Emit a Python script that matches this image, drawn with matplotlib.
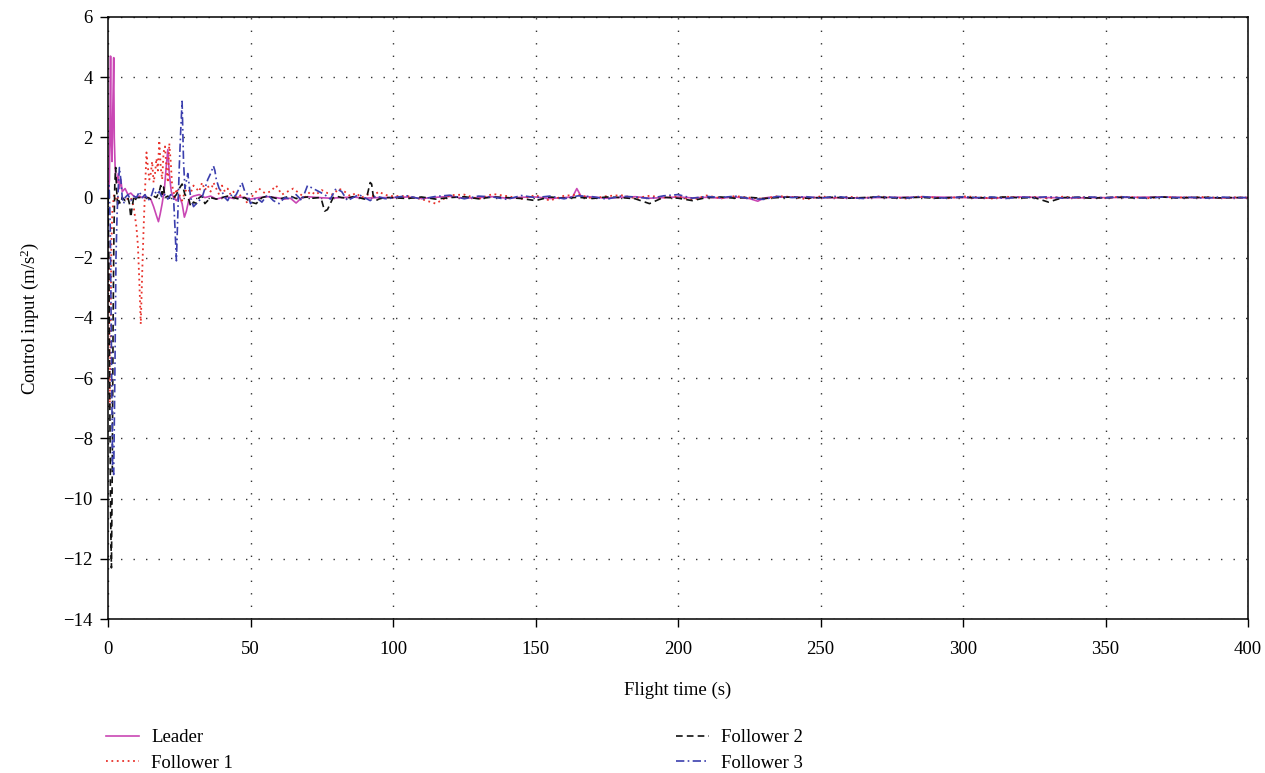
import matplotlib
matplotlib.use("Agg")
import matplotlib.pyplot as plt

plt.rcParams['font.family'] = ['Liberation Serif', 'DejaVu Serif']
plt.rcParams['mathtext.fontset'] = 'custom'
plt.rcParams['mathtext.rm'] = 'Liberation Serif'
plt.rcParams['mathtext.it'] = 'Liberation Serif:italic'

# ---------------- data ----------------
late_t = [100, 105, 110, 115, 120, 125, 130, 135, 140, 145, 150, 155, 160, 165, 170,
          175, 180, 185, 190, 195, 200, 205, 210, 215, 220, 225, 230, 235, 240, 245,
          250, 255, 260, 265, 270, 275, 280, 285, 290, 295, 300, 305, 310, 315, 320,
          325, 330, 335, 340, 345, 350, 355, 360, 365, 370, 375, 380, 385, 390, 395, 400]

leader_t = [0, 0.5, 0.9, 1.1, 1.4, 1.7, 2.0, 2.2, 2.5, 2.8, 3.2, 3.6, 4.0, 4.5, 5, 6, 7, 8,
            9, 10, 11, 12, 13, 14, 15, 16, 17, 17.7, 18.3, 19, 19.8, 20.5, 21.0, 21.5, 22.2,
            23, 24, 25, 26, 26.8, 27.5, 28.3, 29, 30, 32, 34, 36, 38, 40, 42, 44, 46, 48,
            50, 53, 56, 59, 62, 64, 66, 68, 70, 74, 78, 82, 86, 90, 95,
            100, 105, 110, 115, 120, 125, 130, 135, 140, 145, 150, 155, 160, 163, 164.5, 166,
            170, 175, 180, 185, 190, 195, 200, 205, 210, 215, 220, 225, 228, 230, 232, 240,
            250, 260, 270, 280, 290, 300, 310, 320, 330, 340, 350, 360, 370, 380, 390, 400]
leader_v = [0, 0.6, 4.7, 2.0, 1.2, 3.0, 4.65, 2.0, 1.0, 0.6, 0.5, 0.8, 0.3, 0.6, 0.2, 0.3,
            0.1, 0.15, 0.05, 0.0, 0.05, 0.0, 0.02, 0.0, -0.05, -0.3, -0.6, -0.8, -0.55, -0.2,
            0.3, 1.1, 1.6, 0.8, 0.2, 0.0, -0.1, 0.05, -0.2, -0.65, -0.45, -0.1, 0.0, 0.05,
            0.1, 0.0, 0.05, -0.05, 0.0, 0.02, -0.03, 0.02, 0.0, -0.05, 0.0, 0.03, 0.0, -0.05,
            -0.02, -0.18, 0.0, 0.03, 0.0, -0.02, 0.0, 0.02, -0.02, 0.0,
            0.0, 0.02, -0.03, 0.01, 0.04, -0.02, 0.0, 0.03, -0.02, 0.01, 0.02, -0.03, 0.0,
            0.02, 0.3, 0.04, 0.02, -0.02, 0.01, 0.03, -0.02, 0.0, 0.02, -0.01, 0.01, -0.02,
            0.02, -0.03, -0.12, -0.02, 0.01, 0.02, 0.0, -0.01, 0.0, 0.01, 0.02, 0.0, -0.02,
            0.02, 0.0, -0.01, 0.0, 0.01, 0.02, 0.0, -0.01, 0.0]

f1_t = [0, 0.3, 0.6, 0.9, 1.2, 1.5, 1.8, 2.1, 2.5, 3.0, 3.5, 4, 5, 6, 7, 8, 9, 10, 10.5,
        11, 11.5, 12, 12.5, 13, 13.5, 14, 14.5, 15, 15.5, 16, 16.5, 17, 17.5, 18, 18.5, 19,
        19.5, 20, 20.5, 21, 21.5, 22, 22.5, 23, 23.5, 24, 25, 26, 27, 28, 29, 30, 31, 32,
        33, 34, 35, 36, 37, 38, 39, 40, 41, 42, 43, 44, 45, 47, 49, 51, 53, 55, 57, 59, 61,
        63, 65, 67, 69, 71, 73, 75, 77, 79, 81, 83, 85, 87, 89, 91, 93, 95, 97, 99] + late_t[1:]
f1_v = [0, -3.0, -7.0, -4.5, -1.5, -0.5, -0.2, 0.1, 0.0, -0.1, 0.0, 0.05, 0.0, 0.0, -0.05,
        0.0, -0.3, -1.0, -1.6, -2.8, -4.2, -2.5, -1.0, 0.3, 1.5, 1.0, 0.6, 0.8, 1.2, 0.5, 0.8,
        1.3, 0.9, 1.9, 1.0, 0.6, 1.5, 1.7, 1.0, 0.5, 1.8, 1.2, 0.4, 0.2, 0.0, 0.3, 0.1, -0.1,
        0.2, 0.3, 0.15, 0.4, 0.3, 0.2, 0.5, 0.25, 0.4, 0.2, 0.5, 0.3, 0.1, 0.4, 0.2, 0.3, 0.1,
        0.2, 0.0, 0.1, -0.2, 0.1, 0.3, 0.15, 0.2, 0.4, 0.1, 0.2, 0.3, 0.15, 0.0, 0.2, 0.1,
        0.25, 0.15, 0.1, 0.3, 0.2, 0.05, 0.15, 0.0, 0.1, 0.05, 0.2, 0.1, 0.05,
        0.05, -0.05, -0.2, 0.08, 0.1, -0.05, 0.12, 0.05, -0.04, 0.08, -0.1, 0.06, 0.1,
        -0.03, 0.05, 0.08, -0.02, 0.06, 0.0, 0.04, -0.08, 0.07, -0.02, 0.05, 0.0, -0.04,
        0.05, 0.02, -0.05, 0.04, 0.0, 0.03, -0.02, 0.04, 0.01, -0.03, 0.03, 0.0, -0.02,
        0.04, 0.02, -0.03, 0.03, 0.0, 0.02, -0.02, 0.03, 0.0, 0.02, -0.02, 0.03, 0.01,
        -0.02, 0.02, 0.0, 0.01, 0.02, -0.01, 0.01, 0.0]

f2_t = [0, 0.3, 0.6, 0.9, 1.2, 1.5, 1.8, 2.1, 2.4, 2.7, 3.0, 3.4, 3.8, 4.3, 5, 6, 7, 7.5, 8,
        8.5, 9, 9.5, 10, 11, 12, 13, 14, 15, 16, 17, 18, 18.5, 19, 19.5, 20, 21, 22, 23, 24,
        25, 26, 27, 28, 28.5, 29, 30, 31, 32, 33, 34, 35, 36, 38, 40, 42, 44, 46, 48, 50,
        52, 54, 56, 58, 60, 62, 64, 66, 68, 70, 72, 74, 75, 76, 77, 78, 79, 80, 82, 84, 86,
        88, 90, 91, 92, 92.5, 93, 94, 95, 97, 99] + late_t[1:]
f2_v = [0, -2.0, -6.0, -10.5, -12.3, -9.0, -4.0, -1.0, 0.5, 1.0, 0.3, -0.3, -0.1, -0.2, 0.0,
        -0.1, 0.0, -0.2, -0.65, -0.3, 0.0, -0.1, 0.0, 0.0, 0.02, 0.0, 0.0, -0.05, 0.05, 0.0,
        0.2, 0.4, 0.1, 0.35, 0.0, 0.05, -0.05, 0.0, 0.1, 0.3, 0.45, 0.1, 0.0, -0.1, -0.3,
        -0.15, -0.2, 0.0, 0.05, -0.2, -0.1, 0.0, -0.05, 0.0, 0.05, 0.0, -0.05, 0.0, -0.15,
        -0.2, 0.0, 0.05, 0.0, -0.05, 0.0, 0.05, -0.03, 0.0, 0.02, -0.02, 0.0, -0.1, -0.45,
        -0.4, -0.2, 0.0, 0.05, 0.0, -0.02, 0.03, 0.0, -0.05, 0.1, 0.5, 0.45, 0.1, -0.1, -0.05,
        0.0, 0.0,
        -0.03, 0.02, -0.05, 0.0, 0.03, -0.04, 0.02, 0.0, -0.03, -0.1, 0.02, -0.02, 0.01,
        -0.03, 0.02, 0.0, -0.04, -0.2, 0.01, -0.02, -0.1, 0.0, 0.02, -0.02, 0.01, -0.03,
        0.0, 0.02, -0.02, 0.0, 0.01, -0.02, 0.0, 0.02, -0.01, 0.0, 0.01, -0.02, 0.0, 0.01,
        -0.01, 0.0, 0.02, -0.01, 0.0, -0.15, 0.0, 0.01, -0.02, 0.0, 0.01, -0.01, 0.0, 0.02,
        -0.01, 0.0, 0.01, -0.01, 0.0, 0.0]

f3_t = [0, 0.4, 0.8, 1.2, 1.6, 2.0, 2.4, 2.8, 3.2, 3.6, 4.0, 4.5, 5, 5.5, 6, 7, 8, 9, 10, 11,
        12, 13, 14, 15, 16, 17, 18, 19, 20, 21, 22, 23, 23.5, 24, 24.5, 25, 25.5, 26, 26.5,
        27, 28, 29, 30, 31, 32, 33, 34, 35, 36, 37, 37.5, 38, 39, 40, 41, 42, 43, 44, 45,
        46, 47, 48, 49, 50, 52, 54, 56, 58, 60, 62, 64, 66, 68, 70, 72, 74, 76, 78, 80, 82,
        84, 86, 88, 90, 92, 94, 96, 98] + late_t
f3_v = [0, 0.4, -1.0, -5.0, -9.0, -9.2, -6.0, -2.0, -0.5, 0.3, 1.0, 0.6, 0.0, -0.2, 0.0,
        0.1, -0.1, 0.05, 0.0, 0.2, 0.0, 0.1, -0.1, 0.0, 0.3, 0.1, 0.2, 0.0, 0.1, -0.05, 0.1,
        0.0, -1.0, -2.1, -0.5, 1.0, 2.2, 3.2, 1.2, 0.3, 0.8, 0.0, -0.3, -0.2, -0.1, 0.0, 0.3,
        0.6, 0.8, 1.05, 0.9, 0.6, 0.3, 0.2, 0.0, -0.1, 0.1, 0.0, 0.1, 0.3, 0.5, 0.2, 0.1,
        -0.2, 0.0, -0.15, 0.1, -0.1, -0.2, 0.0, -0.05, 0.1, -0.1, 0.4, 0.3, 0.2, 0.1, -0.05,
        0.3, 0.2, -0.1, 0.0, 0.1, 0.0, -0.1, 0.05, 0.0, -0.05,
        0.0, 0.06, -0.05, 0.04, 0.08, -0.04, 0.05, 0.02, -0.06, 0.07, 0.0, 0.05, -0.04,
        0.06, 0.03, -0.05, 0.05, 0.02, -0.03, 0.06, 0.1, -0.02, 0.04, 0.0, 0.05, -0.03,
        -0.06, 0.04, 0.0, 0.03, -0.02, 0.04, 0.0, -0.03, 0.03, 0.01, -0.02, 0.04, 0.0,
        -0.02, 0.03, 0.0, 0.02, -0.03, 0.02, 0.0, 0.03, -0.02, 0.01, 0.02, -0.01, 0.03,
        0.0, -0.02, 0.02, 0.0, 0.01, -0.02, 0.02, 0.0, 0.0]

series_labels = ["Leader", "Follower 1", "Follower 2", "Follower 3"]
x_ticks = [0, 50, 100, 150, 200, 250, 300, 350, 400]
y_ticks = [-14, -12, -10, -8, -6, -4, -2, 0, 2, 4, 6]

FS = 13.5

# ---------------- figure ----------------
fig = plt.figure(figsize=(12.65, 7.73), dpi=100)
ax = fig.add_axes([108 / 1265, 1 - 619 / 773, (1248 - 108) / 1265, (619 - 17) / 773])

l0, = ax.plot(leader_t, leader_v, color='#c947b4', lw=1.2, ls='-')
l1, = ax.plot(f1_t, f1_v, color='#e8322b', lw=1.3, ls=(0, (1, 2.0)))
l2, = ax.plot(f2_t, f2_v, color='#111111', lw=1.2, ls=(0, (4, 2.5)))
l3, = ax.plot(f3_t, f3_v, color='#3b3fae', lw=1.2, ls=(0, (5, 2, 1, 2)))

ax.set_xlim(0, 400)
ax.set_ylim(-14, 6)
ax.set_xticks(x_ticks)
ax.set_yticks(y_ticks)
ax.set_yticklabels([str(v).replace('-', '\u2212') for v in y_ticks])
ax.grid(True, color='#333333', lw=1.0, ls=(0, (1, 8)))
ax.tick_params(direction='out', length=6, width=1, labelsize=FS)
ax.tick_params(axis='x', pad=10)
ax.tick_params(axis='y', pad=5)
for sp in ax.spines.values():
    sp.set_linewidth(1.1)

ax.set_xlabel("Flight time (s)", fontsize=FS, labelpad=17)
ax.set_ylabel("Control input (m/s$^2$)", fontsize=FS, labelpad=16)

fig.legend([l0, l1, l2, l3], series_labels, ncol=2, loc='upper left',
           bbox_to_anchor=(106 / 1265, 1 - 729 / 773), frameon=False, fontsize=FS,
           handlelength=1.75, columnspacing=23.65, labelspacing=0.45, handletextpad=0.65,
           borderpad=0, borderaxespad=0)

fig.savefig("out.png", dpi=100)
